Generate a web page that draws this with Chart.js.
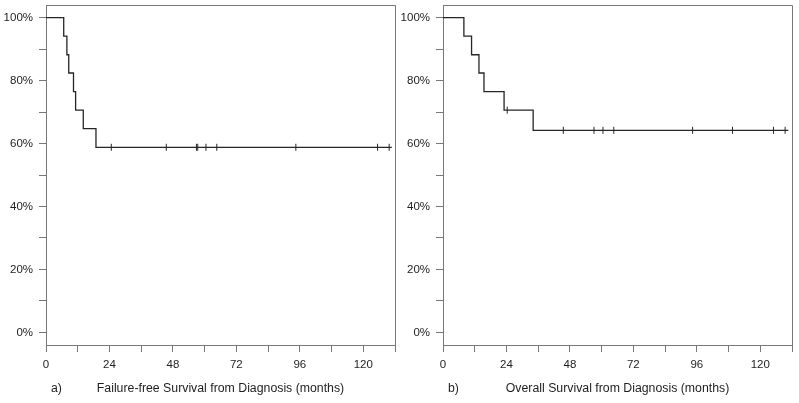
<!DOCTYPE html>
<html>
<head>
<meta charset="utf-8">
<script src="https://cdn.jsdelivr.net/npm/chart.js@4.4.1/dist/chart.umd.min.js"></script>
<style>
  body { margin: 0; background: #fff; }
  #wrap { position: relative; width: 799px; height: 403px; overflow: hidden; }
  canvas { position: absolute; top: 0; }
  #ffsChart { left: 0; }
  #osChart { left: 397px; }
</style>
</head>
<body>
<div id="wrap">
  <canvas id="ffsChart" width="400" height="403"></canvas>
  <canvas id="osChart" width="400" height="403"></canvas>
</div>
<script>
// failure-free survival (months, %)
const ffsTimes = [0, 6.7, 7.9, 8.6, 10.4, 11.2, 14.1, 18.9, 130.8];
const ffsSurv = [100, 94.1, 88.2, 82.4, 76.5, 70.6, 64.7, 58.8, 58.8];
const ffsCensorTimes = [24.7, 45.5, 56.9, 57.4, 60.5, 64.6, 94.5, 125.4, 129.8];
const ffsCensorSurv = [58.8, 58.8, 58.8, 58.8, 58.8, 58.8, 58.8, 58.8, 58.8];

// overall survival
const osTimes = [0, 7.9, 10.8, 13.6, 15.5, 23.1, 34.1, 130.6];
const osSurv = [100, 94.1, 88.2, 82.4, 76.5, 70.6, 64.2, 64.2];
const osCensorTimes = [24.3, 45.5, 57.1, 60.5, 64.6, 94.4, 109.5, 125.0, 129.4];
const osCensorSurv = [70.6, 64.2, 64.2, 64.2, 64.2, 64.2, 64.2, 64.2, 64.2];

// axis ticks
const xTicks = [0, 12, 24, 36, 48, 60, 72, 84, 96, 108, 120, 132];
const yTicks = [0, 10, 20, 30, 40, 50, 60, 70, 80, 90, 100];

const FAMILY = "'Liberation Sans', Arial, sans-serif";
const TICK_FONT = { family: FAMILY, size: 11.5 };
const TITLE_FONT = { family: FAMILY, size: 12.3 };
const TEXT = '#1e1e1e';
const AXIS = '#777';
const CURVE = '#262626';

const toPoints = (xs, ys) => xs.map((x, i) => ({ x: x, y: ys[i] }));

// top + right frame and the panel letter
const framePlugin = {
    id: 'frame',
    afterDraw(chart, args, opts) {
        const a = chart.chartArea;
        const ctx = chart.ctx;
        ctx.save();
        ctx.strokeStyle = AXIS;
        ctx.lineWidth = 1;
        ctx.beginPath();
        ctx.moveTo(a.left, Math.round(a.top) + 0.5);
        ctx.lineTo(Math.round(a.right) + 0.5, Math.round(a.top) + 0.5);
        ctx.lineTo(Math.round(a.right) + 0.5, a.bottom);
        ctx.stroke();
        ctx.fillStyle = TEXT;
        ctx.font = TITLE_FONT.size + 'px ' + FAMILY;
        ctx.textBaseline = 'middle';
        ctx.fillText(opts.letter, a.left + 5, 389);
        ctx.restore();
    }
};

function makeChart(id, times, surv, cTimes, cSurv, title, letter) {
    const ctx = document.getElementById(id);
    return new Chart(ctx, {
        type: 'line',
        data: {
            datasets: [{
                data: toPoints(times, surv),
                borderColor: CURVE,
                borderWidth: 1.3,
                pointRadius: 0,
                stepped: 'before',
                fill: false
            }, {
                data: toPoints(cTimes, cSurv),
                showLine: false,
                pointStyle: 'line',
                rotation: 90,
                pointRadius: 3.5,
                pointBorderWidth: 1,
                borderColor: CURVE,
                pointBorderColor: CURVE
            }]
        },
        options: {
            responsive: false,
            devicePixelRatio: 1,
            animation: false,
            layout: { padding: { top: 5, right: 4, left: 0, bottom: 0 } },
            plugins: {
                legend: { display: false },
                tooltip: { enabled: false },
                frame: { letter: letter }
            },
            scales: {
                x: {
                    type: 'linear',
                    min: 0,
                    max: 132,
                    afterBuildTicks: s => { s.ticks = xTicks.map(v => ({ value: v })); },
                    afterFit: s => {
                        s.height = 58;
                        s.paddingLeft = 0;
                        s.paddingRight = 0;
                    },
                    grid: { drawOnChartArea: false, drawTicks: true, tickLength: 7, tickColor: AXIS },
                    border: { display: true, color: AXIS, width: 1 },
                    ticks: {
                        autoSkip: false,
                        maxRotation: 0,
                        padding: 6,
                        color: TEXT,
                        font: TICK_FONT,
                        callback: v => (v % 24 === 0 ? String(v) : '')
                    },
                    title: {
                        display: true,
                        text: title,
                        color: TEXT,
                        font: TITLE_FONT,
                        padding: { top: 0, bottom: 7 }
                    }
                },
                y: {
                    min: -4,
                    max: 104,
                    afterBuildTicks: s => { s.ticks = yTicks.map(v => ({ value: v })); },
                    afterFit: s => {
                        s.width = 46;
                        s.paddingTop = 0;
                        s.paddingBottom = 0;
                    },
                    grid: { drawOnChartArea: false, drawTicks: true, tickLength: 7, tickColor: AXIS },
                    border: { display: true, color: AXIS, width: 1 },
                    ticks: {
                        autoSkip: false,
                        padding: 6,
                        color: TEXT,
                        font: TICK_FONT,
                        callback: v => (v % 20 === 0 ? v + '%' : '')
                    }
                }
            }
        },
        plugins: [framePlugin]
    });
}

makeChart('ffsChart', ffsTimes, ffsSurv, ffsCensorTimes, ffsCensorSurv,
    'Failure-free Survival from Diagnosis (months)', 'a)');
makeChart('osChart', osTimes, osSurv, osCensorTimes, osCensorSurv,
    'Overall Survival from Diagnosis (months)', 'b)');
</script>
</body>
</html>
